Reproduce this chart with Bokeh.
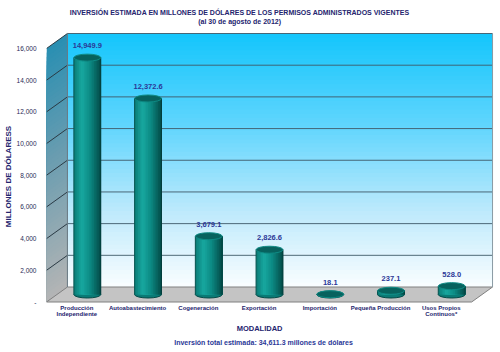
import numpy as np
from bokeh.plotting import figure
from bokeh.models import Range1d, FixedTicker
from bokeh.core.properties import value
from bokeh.embed import file_html
from bokeh.resources import INLINE

# ---------------- data ----------------
categories = ["Producción\nIndependiente", "Autoabastecimiento", "Cogeneración",
              "Exportación", "Importación", "Pequeña Producción", "Usos Propios\nContinuos*"]
investment = [14949.9, 12372.6, 3679.1, 2826.6, 18.1, 237.1, 528.0]
y_ticks = [0, 2000, 4000, 6000, 8000, 10000, 12000, 14000, 16000]
y_tick_labels = ["-", "2,000", "4,000", "6,000", "8,000", "10,000", "12,000", "14,000", "16,000"]
title_text = "INVERSIÓN ESTIMADA EN MILLONES DE DÓLARES DE LOS PERMISOS ADMINISTRADOS VIGENTES"
subtitle_text = "(al 30 de agosto de 2012)"
x_title = "MODALIDAD"
y_title = "MILLONES DE DÓLARESS"
footer_text = "Inversión total estimada: 34,611.3 millones de dólares"

# ---------------- layout constants ----------------
W, H = 500, 352
FL = 44                      # frame left (px)
Y0 = 301.5                   # pixel of value 0 on the front plane
K = 253.5 / 16000.0          # px per value unit
X0 = 74.5                    # pixel of category 0 on the front plane
S = 61.0                     # px per category
DX = 21.0 / S                # depth offset (x, data units)
DY = 15.0 / K                # depth offset (y, data units)
FONT = value("Liberation Sans")
NAVY = "#24246e"


def vy(py):
    return (Y0 - py) / K


def vx(px):
    return (px - X0) / S


def hex2rgb(h):
    h = h.lstrip("#")
    return np.array([int(h[i:i + 2], 16) for i in (0, 2, 4)], dtype=float)


def grad(stops, t):
    for (p0, c0), (p1, c1) in zip(stops[:-1], stops[1:]):
        if p0 <= t <= p1:
            f = (t - p0) / (p1 - p0) if p1 > p0 else 0
            c = hex2rgb(c0) * (1 - f) + hex2rgb(c1) * f
            return "#%02x%02x%02x" % tuple(int(round(x)) for x in c)
    return stops[-1][1]


n = len(categories)
x_lo, x_hi = -0.5, n - 0.5
y_max = y_ticks[-1]

p = figure(width=W, height=H, x_range=Range1d(vx(FL), vx(W)), y_range=Range1d(vy(H), vy(0)),
           output_backend="svg", toolbar_location=None, x_axis_location=None,
           min_border_left=FL, min_border_right=0, min_border_top=0, min_border_bottom=0)
p.outline_line_color = None
p.xgrid.visible = False
p.ygrid.visible = False
p.background_fill_color = "white"
p.border_fill_color = "white"

NS = 60
# ---------------- back wall (vertical gradient, stacked strips: no seams) ----------------
wall_stops = [(0.0, "#16c6fc"), (0.35, "#5fd5fd"), (0.7, "#bfeafc"), (1.0, "#fbfeff")]
tops_w = np.linspace(y_max + DY, DY, NS + 1)[:-1]
p.quad(left=[x_lo + DX] * NS, right=[x_hi + DX] * NS,
       top=list(tops_w), bottom=[DY] * NS,
       fill_color=[grad(wall_stops, j / NS) for j in range(NS)], line_color=None)

# ---------------- left side wall ----------------
side_stops = [(0.0, "#2a8fb2"), (0.45, "#6b9db0"), (1.0, "#b5b5b5")]
xs, ys, cols = [], [], []
for j, vt in enumerate(np.linspace(y_max, 0, NS + 1)[:-1]):
    xs.append([x_lo, x_lo + DX, x_lo + DX, x_lo])
    ys.append([0, DY, vt + DY, vt])
    cols.append(grad(side_stops, j / NS))
p.patches(xs=xs, ys=ys, fill_color=cols, line_color=None)

# ---------------- floor ----------------
p.patch(x=[x_lo, x_hi, x_hi + DX, x_lo + DX], y=[0, 0, DY, DY],
        fill_color="#c4c4c4", line_color="#808080", line_width=1)

# ---------------- gridlines ----------------
grid_v = [v + DY for v in y_ticks[1:]]
p.segment(x0=[x_lo + DX] * len(grid_v), x1=[x_hi + DX] * len(grid_v), y0=grid_v, y1=grid_v,
          line_color="#3f5a68", line_width=1, line_alpha=0.9)
p.segment(x0=[x_lo] * len(y_ticks[1:]), x1=[x_lo + DX] * len(y_ticks[1:]),
          y0=y_ticks[1:], y1=[v + DY for v in y_ticks[1:]],
          line_color="#2a3a44", line_width=1)
# wall borders
p.segment(x0=[x_hi + DX], x1=[x_hi + DX], y0=[DY], y1=[y_max + DY], line_color="#8a9aa4", line_width=1)
p.segment(x0=[x_lo + DX], x1=[x_lo + DX], y0=[DY], y1=[y_max + DY], line_color="#6a7a84", line_width=1)

# ---------------- cylinders ----------------
xc = [i + DX / 2 for i in range(n)]
base = DY / 2
tops = [v + base for v in investment]
cw = 27.0 / S
eh = 7.0 / K
body_stops = [(0.0, "#0b7b76"), (0.3, "#18a8a0"), (0.6, "#0c8a84"), (1.0, "#034a47")]
NB = 16
bl, br, bb, bt, bc = [], [], [], [], []
for i in range(n):
    for k in range(NB):
        bl.append(xc[i] - cw / 2 + cw * k / NB)
        br.append(xc[i] + cw / 2)
        bb.append(base)
        bt.append(tops[i])
        bc.append(grad(body_stops, (k + 0.5) / NB))
p.ellipse(x=xc, y=[base] * n, width=cw, height=eh, fill_color="#0a7a75", line_color="#044a47", line_width=1)
p.quad(left=bl, right=br, bottom=bb, top=bt, fill_color=bc, line_color=None)
p.segment(x0=[x - cw / 2 for x in xc], x1=[x - cw / 2 for x in xc], y0=[base] * n, y1=tops,
          line_color="#05524f", line_width=1)
p.segment(x0=[x + cw / 2 for x in xc], x1=[x + cw / 2 for x in xc], y0=[base] * n, y1=tops,
          line_color="#033e3c", line_width=1)
p.ellipse(x=xc, y=tops, width=cw, height=eh, fill_color="#07625e", line_color="#0e8a84", line_width=1)

# value labels
p.text(x=xc, y=[t + 12.0 / K for t in tops], text=[f"{v:,.1f}" for v in investment],
       text_align="center", text_baseline="middle", text_font=FONT, text_font_style="bold",
       text_font_size="7.5px", text_color="#2b3897")

# category labels
p.text(x=list(range(n)), y=[vy(304)] * n, text=categories, text_align="center", text_baseline="top",
       text_font=FONT, text_font_style="bold", text_font_size="6px", text_color=NAVY,
       text_line_height=1.1)

# titles / axis titles
p.text(x=[vx(238)], y=[vy(12)], text=[title_text], text_align="center", text_baseline="middle",
       text_font=FONT, text_font_style="bold", text_font_size="7px", text_color=NAVY)
p.text(x=[vx(238)], y=[vy(21)], text=[subtitle_text], text_align="center", text_baseline="middle",
       text_font=FONT, text_font_style="bold", text_font_size="7px", text_color=NAVY)
p.text(x=[vx(258)], y=[vy(328)], text=[x_title], text_align="center", text_baseline="middle",
       text_font=FONT, text_font_style="bold", text_font_size="7.5px", text_color=NAVY)
p.text(x=[vx(262)], y=[vy(342)], text=[footer_text], text_align="center", text_baseline="middle",
       text_font=FONT, text_font_style="bold", text_font_size="7px", text_color="#2b3897")

# ---------------- y axis ----------------
ya = p.yaxis[0]
ya.ticker = FixedTicker(ticks=y_ticks)
ya.major_label_overrides = {t: l for t, l in zip(y_ticks, y_tick_labels)}
ya.axis_line_color = None
ya.major_tick_line_color = None
ya.minor_tick_line_color = None
ya.major_label_standoff = 4
ya.major_label_text_font = "Liberation Sans"
ya.major_label_text_font_size = "6.5px"
ya.major_label_text_color = "#2a2a55"
ya.axis_label = y_title
ya.axis_label_standoff = 1
ya.axis_label_text_font = "Liberation Sans"
ya.axis_label_text_font_style = "bold"
ya.axis_label_text_font_size = "8px"
ya.axis_label_text_color = NAVY

open("out.html", "w").write(file_html(p, INLINE))
